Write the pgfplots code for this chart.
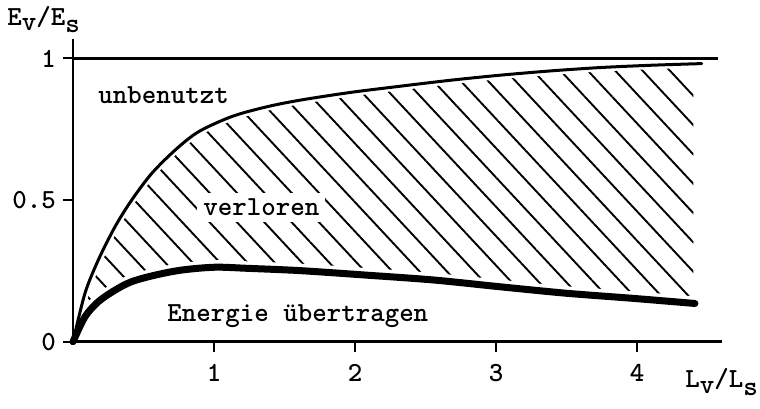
\documentclass[border=0pt]{standalone}
\usepackage{pgfplots}
\pgfplotsset{compat=1.18}
\usepgfplotslibrary{fillbetween}
\usetikzlibrary{patterns.meta}
\newcommand\tfont{\fontsize{13.8}{16}\selectfont\ttfamily\bfseries}
\begin{document}
\begin{tikzpicture}
\begin{axis}[
  scale only axis, width=324.3pt, height=151.6pt,
  xmin=0, xmax=4.6, ymin=0, ymax=1.0706,
  axis lines=left, axis line style={-, line width=1.3pt},
  axis on top,
  clip=false,
  xtick={1,2,3,4}, xticklabels={1,2,3,4},
  ytick={0,0.5,1}, yticklabels={0\hspace{3.5pt},0.5\hspace{-4.5pt},1\hspace{2pt}},
  tick align=outside, major tick length=5pt,
  tick style={line width=1pt, black},
  ticklabel style={font=\tfont},
  xticklabel style={yshift=-3pt},
]
% upper curve (path only)
\addplot[name path=upper, draw=none] coordinates {
(0,0) (0.085,0.171) (0.179,0.288) (0.298,0.406) (0.416,0.500) (0.558,0.594)
(0.723,0.676) (0.889,0.741) (1.126,0.795) (1.362,0.828) (1.60,0.852)
(1.965,0.880) (2.319,0.902) (2.674,0.923) (3.028,0.941) (3.383,0.956)
(3.738,0.968) (4.092,0.976) (4.459,0.982)};
% lower curve (path only)
\addplot[name path=lower, draw=none] coordinates {
(0,0) (0.085,0.088) (0.179,0.141) (0.298,0.182) (0.416,0.212) (0.582,0.235)
(0.771,0.253) (1.007,0.263) (1.241,0.259) (1.61,0.251) (2.083,0.235)
(2.555,0.218) (3.028,0.194) (3.501,0.171) (3.974,0.153) (4.411,0.135)};
% hatching
\addplot[draw=none, pattern={Lines[angle=-47, distance=10pt, line width=0.95pt]}]
  fill between[of=upper and lower, soft clip={domain=0:4.4}];
% white halos
\addplot[white, line width=4pt, smooth] coordinates {
(0,0) (0.085,0.171) (0.179,0.288) (0.298,0.406) (0.416,0.500) (0.558,0.594)
(0.723,0.676) (0.889,0.741) (1.126,0.795) (1.362,0.828) (1.60,0.852)
(1.965,0.880) (2.319,0.902) (2.674,0.923) (3.028,0.941) (3.383,0.956)
(3.738,0.968) (4.092,0.976) (4.459,0.982)};
\addplot[white, line width=7pt, smooth] coordinates {
(0,0) (0.085,0.088) (0.179,0.141) (0.298,0.182) (0.416,0.212) (0.582,0.235)
(0.771,0.253) (1.007,0.263) (1.241,0.259) (1.61,0.251) (2.083,0.235)
(2.555,0.218) (3.028,0.194) (3.501,0.171) (3.974,0.153) (4.411,0.135)};
% curves
\addplot[black, line width=1.5pt, smooth, line cap=round] coordinates {
(0,0) (0.085,0.171) (0.179,0.288) (0.298,0.406) (0.416,0.500) (0.558,0.594)
(0.723,0.676) (0.889,0.741) (1.126,0.795) (1.362,0.828) (1.60,0.852)
(1.965,0.880) (2.319,0.902) (2.674,0.923) (3.028,0.941) (3.383,0.956)
(3.738,0.968) (4.092,0.976) (4.459,0.982)};
\addplot[black, line width=3.5pt, smooth, line cap=round] coordinates {
(0,0) (0.085,0.088) (0.179,0.141) (0.298,0.182) (0.416,0.212) (0.582,0.235)
(0.771,0.253) (1.007,0.263) (1.241,0.259) (1.61,0.251) (2.083,0.235)
(2.555,0.218) (3.028,0.194) (3.501,0.171) (3.974,0.153) (4.411,0.135)};
% line at 1
\addplot[black, line width=1.3pt] coordinates {(0,1) (4.574,1)};
% labels
\node[anchor=base west, font=\tfont, inner sep=0pt] at (axis cs:0.177,0.842) {unbenutzt};
\node[anchor=base west, font=\tfont, fill=white, inner sep=3pt] at (axis cs:0.88,0.445) {verloren};
\node[anchor=base west, font=\tfont, inner sep=0pt] at (axis cs:0.667,0.0713) {Energie übertragen};
\node[anchor=base west, font=\tfont, inner sep=0pt] at (axis cs:-0.468,1.1175) {E\raisebox{-0.45ex}{v}/E\raisebox{-0.6ex}{s}};
\node[anchor=base west, font=\tfont, inner sep=0pt] at (axis cs:4.34,-0.163) {L\raisebox{-0.45ex}{v}/L\raisebox{-0.6ex}{s}};
\end{axis}
\pgfresetboundingbox
\path (-36.5pt,-33.15pt) rectangle (343.5pt,170.85pt);
\end{tikzpicture}
\end{document}
